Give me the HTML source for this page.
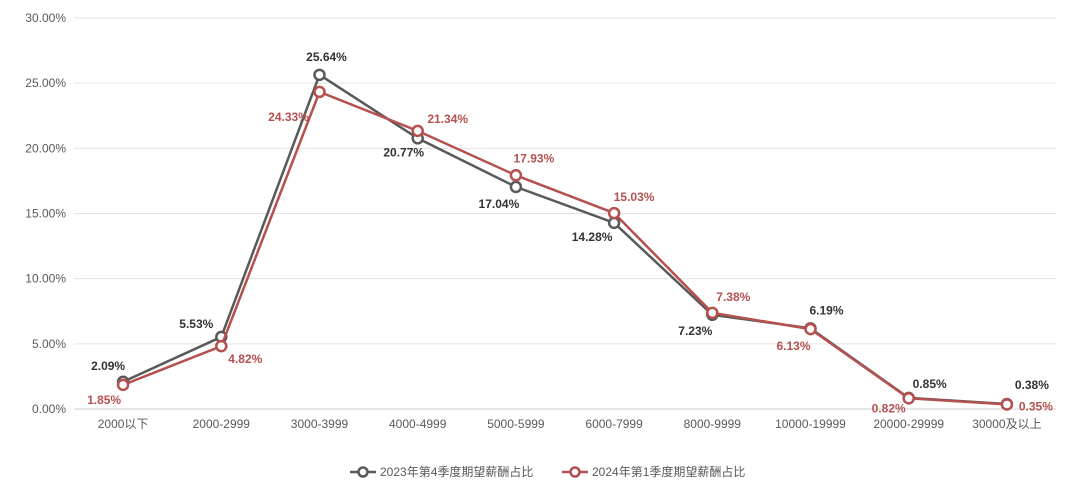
<!DOCTYPE html>
<html><head><meta charset="utf-8"><style>
body{margin:0;background:#fff;}
svg{display:block;font-family:"Liberation Sans","Noto Sans CJK SC",sans-serif;}
</style></head><body>
<svg id="c" width="1092" height="491"></svg>
<script>
const categories=["2000以下","2000-2999","3000-3999","4000-4999","5000-5999","6000-7999","8000-9999","10000-19999","20000-29999","30000及以上"];
const seriesA=[2.09,5.53,25.64,20.77,17.04,14.28,7.23,6.19,0.85,0.38];
const seriesB=[1.85,4.82,24.33,21.34,17.93,15.03,7.38,6.13,0.82,0.35];
const yTicks=[0,5,10,15,20,25,30];
const nameA="2023年第4季度期望薪酬占比";
const nameB="2024年第1季度期望薪酬占比";
const offA=[[-15,-16],[-25,-13],[7,-18],[-14,14],[-17,17],[-22,14],[-17,16],[16,-18],[21,-14],[25,-19]];
const offB=[[-19,15],[24,13],[-31,25],[30,-12],[18,-17],[20,-16],[21,-16],[-17,17],[-20,10],[29,2]];
const svg=document.getElementById('c');const NS="http://www.w3.org/2000/svg";
const X0=74,X1=1056,Y0=409,Y1=18;
const bw=(X1-X0)/categories.length;
const x=i=>X0+bw*(i+0.5);
const y=v=>Y0-(v/30)*(Y0-Y1);
function mk(t,a,txt){const e=document.createElementNS(NS,t);for(const k in a)e.setAttribute(k,a[k]);if(txt!==undefined)e.textContent=txt;svg.appendChild(e);return e;}
yTicks.forEach(v=>{
 const g=mk('line',{x1:X0,x2:X1,y1:y(v),y2:y(v),stroke:v===0?'#cfcfcf':'#e3e3e3','stroke-width':1});
 
 
 const t=mk('text',{x:66,y:y(v)+4,'text-anchor':'end','font-size':12,fill:'#595959'},v.toFixed(2)+'%');
 
 
});
categories.forEach((c,i)=>{
 const t=mk('text',{x:x(i),y:428,'text-anchor':'middle','font-size':12,fill:'#595959'},c);
 
 
});
function series(data,color,lblColor,off,name){
 const p=mk('polyline',{points:data.map((v,i)=>x(i)+','+y(v)).join(' '),fill:'none',stroke:color,'stroke-width':2.5});
 
 
 data.forEach((v,i)=>{
  const c=mk('circle',{cx:x(i),cy:y(v),r:5,fill:'#fff',stroke:color,'stroke-width':2.5});
  
  
  const t=mk('text',{x:x(i)+off[i][0],y:y(v)+off[i][1]+4,'text-anchor':'middle','font-size':12,'font-weight':'bold',fill:lblColor},v.toFixed(2)+'%');
  
  
 });
}
series(seriesA,'#595959','#333','#0'.length?offA:offA,'series-2023q4');
series(seriesB,'#b5504f','#b5504f',offB,'series-2024q1');
function legend(lx,color,label,name){
 const l=mk('line',{x1:lx,x2:lx+26,y1:472,y2:472,stroke:color,'stroke-width':2.5});
 
 
 const c=mk('circle',{cx:lx+13,cy:472,r:4.5,fill:'#fff',stroke:color,'stroke-width':2.5});
 
 
 const t=mk('text',{x:lx+30,y:476,'font-size':12,fill:'#595959'},label);
 
 
}
legend(350,'#595959',nameA,'series-2023q4');
legend(562,'#b5504f',nameB,'series-2024q1');
</script>
</body></html>
